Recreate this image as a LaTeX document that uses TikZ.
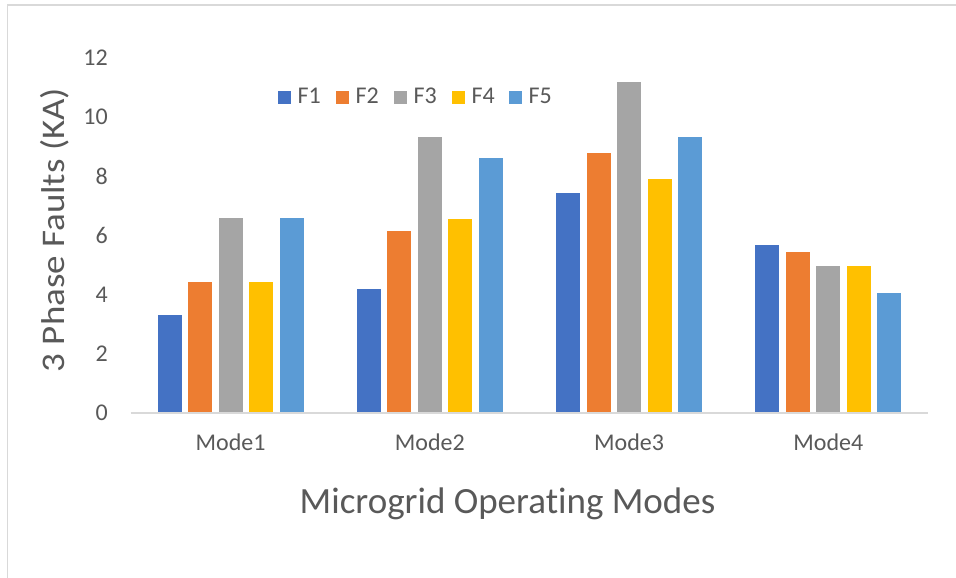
\documentclass[tikz,border=0pt]{standalone}
\usepackage{fontspec}
\setmainfont{Carlito}[Ligatures=NoCommon]
\usepackage{graphicx}
\definecolor{cFa}{HTML}{4472C4}
\definecolor{cFb}{HTML}{ED7D31}
\definecolor{cFc}{HTML}{A5A5A5}
\definecolor{cFd}{HTML}{FFC000}
\definecolor{cFe}{HTML}{5B9BD5}
\definecolor{txt}{HTML}{595959}
\definecolor{gridc}{HTML}{D9D9D9}
\begin{document}
\begin{tikzpicture}[x=1pt,y=1pt,
  ticklbl/.style={anchor=east,inner sep=0pt,text=txt,font=\fontsize{24}{28}\selectfont},
  catlbl/.style={anchor=base,inner sep=0pt,text=txt,font=\fontsize{24}{28}\selectfont},
  leglbl/.style={anchor=base west,inner sep=0pt,text=txt,font=\fontsize{24}{28}\selectfont},
  titlelbl/.style={inner sep=0pt,text=txt}]
\useasboundingbox (0,0) rectangle (956,578);
\fill[white] (0,0) rectangle (956,578);
% frame
\draw[gridc,line width=1.3pt] (7.3,0) -- (7.3,573) -- (956,573);
% bars
\def\base{165.2}
\def\unit{29.58}
\foreach \col/\off/\vals in {cFa/-61/{3.29,4.17,7.43,5.66},cFb/-30.5/{4.41,6.14,8.77,5.43},cFc/0/{6.60,9.32,11.19,4.95},cFd/30.5/{4.41,6.54,7.90,4.96},cFe/61/{6.60,8.63,9.32,4.04}}{
  \foreach \v [count=\i from 0] in \vals {
    \pgfmathsetmacro\cx{131+199.25*(\i+0.5)+\off}
    \pgfmathsetmacro\top{\base+\v*\unit}
    \fill[\col] (\cx-12,\base) rectangle (\cx+12,\top);
  }
}
% axis
\draw[gridc,line width=1.5pt] (130.7,\base) coordinate (axl) -- (927.7,\base) coordinate (axr);
% tick labels
\foreach \t in {0,2,4,6,8,10,12}{
  \node[ticklbl] (tick\t) at (108,\base+\t*\unit) {\t};
}
% category labels
\foreach \m [count=\i from 0] in {1,2,3,4}{
  \pgfmathsetmacro\cx{131+199.25*(\i+0.5)}
  \node[catlbl] (mode\m) at (\cx,127) {Mode\m};
}
% legend
\foreach \col/\lx/\lab in {cFa/278/F1,cFb/336/F2,cFc/394/F3,cFd/452/F4,cFe/509/F5}{
  \fill[\col] (\lx,474) rectangle (\lx+13.3,487.3);
  \node[leglbl] (leg\lab) at (\lx+19.3,474) {\lab};
}
% axis titles
\node[titlelbl,anchor=base,font=\fontsize{37}{41}\selectfont] (xtitle) at (507.5,64) {Microgrid Operating Modes};
\node[titlelbl,rotate=90,font=\fontsize{33}{38}\selectfont] (ytitle) at (55,348) {\scalebox{1.12}[1]{3 Phase Faults (KA)}};
\end{tikzpicture}
\end{document}
